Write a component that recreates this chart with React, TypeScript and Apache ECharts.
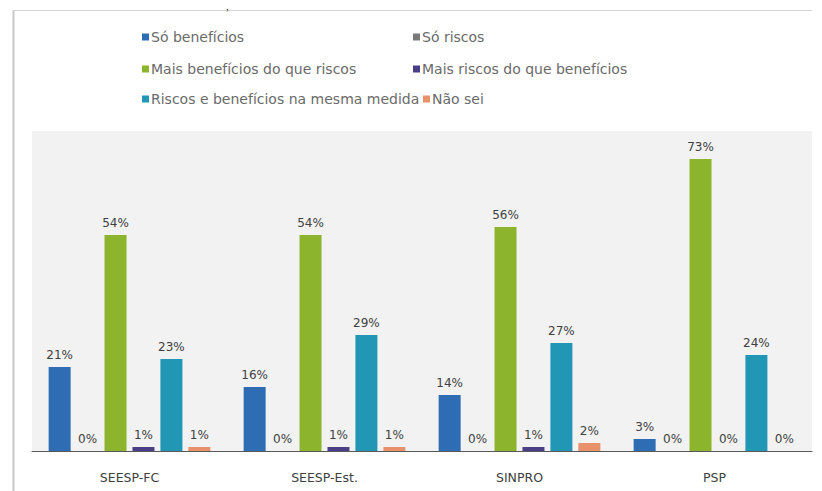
import React, { useEffect, useRef } from "react";
import * as echarts from "echarts";

const categories = ["SEESP-FC", "SEESP-Est.", "SINPRO", "PSP"];
const seriesNames = [
  "Só benefícios",
  "Só riscos",
  "Mais benefícios do que riscos",
  "Mais riscos do que benefícios",
  "Riscos e benefícios na mesma medida",
  "Não sei",
];
const soBeneficios = [21, 16, 14, 3];
const soRiscos = [0, 0, 0, 0];
const maisBeneficios = [54, 54, 56, 73];
const maisRiscos = [1, 1, 1, 0];
const mesmaMedida = [23, 29, 27, 24];
const naoSei = [1, 1, 2, 0];
const seriesValues = [soBeneficios, soRiscos, maisBeneficios, maisRiscos, mesmaMedida, naoSei];
const colors = ["#2e6cb4", "#7a7a7a", "#8cb42c", "#4a3f86", "#2196b5", "#e8916a"];

// legend placement (marker left x, row center y)
const legendPos = [
  [142, 38],
  [413, 38],
  [142, 70],
  [413, 70],
  [142, 100],
  [423, 100],
];

export default function App() {
  const ref = useRef<HTMLDivElement>(null);
  useEffect(() => {
    document.body.style.margin = "0";
    const chart = echarts.init(ref.current!, null, { renderer: "svg" });
    chart.setOption({
      animation: false,
      backgroundColor: "#ffffff",
      textStyle: { fontFamily: "DejaVu Sans" },
      graphic: [
        {
          type: "line",
          shape: { x1: 13.5, y1: 10.5, x2: 812, y2: 10.5 },
          style: { stroke: "#d4d4d4", lineWidth: 1 },
        },
        {
          type: "line",
          shape: { x1: 13.5, y1: 10.5, x2: 13.5, y2: 491 },
          style: { stroke: "#c8c8c8", lineWidth: 2 },
        },
        {
          type: "text",
          left: 226,
          top: 0,
          style: { text: ",", fill: "#333", font: "11px serif" },
        },
      ],
      legend: seriesNames.map((name, i) => ({
        data: [name],
        left: legendPos[i][0],
        top: legendPos[i][1] - 8,
        itemWidth: 7,
        itemHeight: 7,
        itemGap: 4,
        icon: "rect",
        padding: 0,
        textStyle: { color: "#6a6a6a", fontSize: 14, fontFamily: "DejaVu Sans", padding: [0, 0, 0, -3] },
      })),
      grid: {
        left: 32,
        right: 10,
        top: 131,
        bottom: 40,
        show: true,
        backgroundColor: "#f2f2f2",
        borderWidth: 0,
      },
      xAxis: {
        type: "category",
        data: categories,
        axisLine: { lineStyle: { color: "#595959", width: 1 } },
        axisTick: { show: false },
        axisLabel: { color: "#404040", fontSize: 12.5, margin: 20, fontFamily: "DejaVu Sans" },
      },
      yAxis: {
        type: "value",
        min: 0,
        max: 80,
        show: false,
        splitLine: { show: false },
      },
      series: seriesNames.map((name, i) => ({
        name,
        type: "bar",
        data: seriesValues[i],
        barWidth: 22,
        barGap: "27%",
        itemStyle: { color: colors[i] },
        label: {
          show: true,
          position: "top",
          distance: 6,
          formatter: "{c}%",
          color: "#404040",
          fontSize: 12,
          fontFamily: "DejaVu Sans",
        },
      })),
    });
    return () => chart.dispose();
  }, []);
  return <div ref={ref} style={{ width: 822, height: 491 }} />;
}
